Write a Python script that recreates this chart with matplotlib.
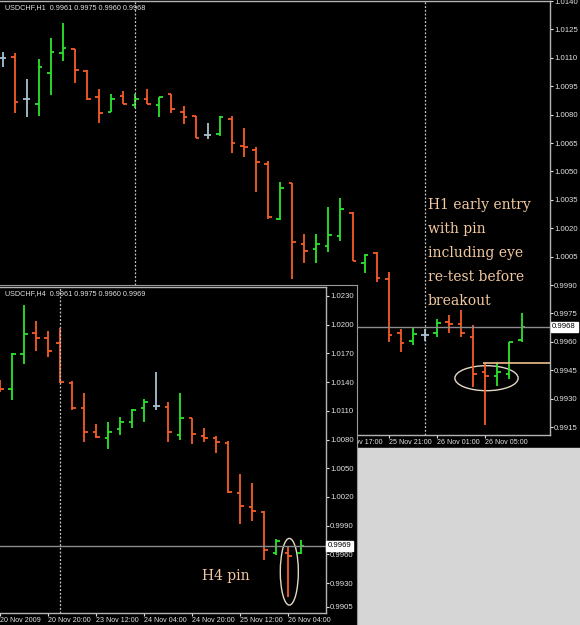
import matplotlib
matplotlib.use('Agg')
import matplotlib.pyplot as plt
from matplotlib.patches import Ellipse, Rectangle
from matplotlib.transforms import Bbox, TransformedBbox

W, H = 580, 625
plt.rcParams['font.family'] = ['Liberation Sans', 'DejaVu Sans']

# USDCHF H1 bars, 24 Nov 13:00 .. 26 Nov 08:00
h1_open = [1.01099, 1.01106, 1.00881, 1.00856, 1.01018, 1.01127, 1.01145, 1.01032, 1.00892, 1.00816,
           1.00900, 1.00851, 1.00884, 1.00851, 1.00907, 1.00816, 1.00794, 1.00692, 1.00696, 1.00775,
           1.00634, 1.00613, 1.00538, 1.00247, 1.00439, 1.00117, 1.00089, 1.00106, 1.00159, 1.00279,
           1.00018, 1.00069, 0.99931, 0.99646, 0.99605, 0.99637, 0.99646, 0.99703, 0.99695, 0.99628,
           0.99443, 0.99420, 0.99431, 0.99610]
h1_high = [1.01132, 1.01127, 1.00987, 1.01092, 1.01206, 1.01285, 1.01145, 1.01036, 1.00934, 1.00909,
           1.00926, 1.00907, 1.00934, 1.00895, 1.00907, 1.00846, 1.00794, 1.00754, 1.00794, 1.00794,
           1.00728, 1.00628, 1.00557, 1.00446, 1.00439, 1.00168, 1.00168, 1.00311, 1.00358, 1.00284,
           1.00064, 1.00076, 0.99971, 0.99667, 0.99680, 0.99667, 0.99721, 0.99742, 0.99768, 0.99689,
           0.99487, 0.99487, 0.99601, 0.99750]
h1_low = [1.01053, 1.00809, 1.00786, 1.00793, 1.00904, 1.01085, 1.00965, 1.00877, 1.00754, 1.00816,
          1.00856, 1.00833, 1.00856, 1.00790, 1.00807, 1.00749, 1.00678, 1.00670, 1.00689, 1.00596,
          1.00575, 1.00393, 1.00247, 1.00244, 0.99930, 1.00018, 1.00018, 1.00076, 1.00134, 1.00027,
          0.99966, 0.99918, 0.99601, 0.99548, 0.99584, 0.99605, 0.99624, 0.99649, 0.99624, 0.99360,
          0.99161, 0.99369, 0.99404, 0.99600]
h1_close = [1.01099, 1.00868, 1.00881, 1.01053, 1.01132, 1.01153, 1.01036, 1.00883, 1.00810, 1.00883,
            1.00856, 1.00881, 1.00856, 1.00895, 1.00830, 1.00789, 1.00678, 1.00692, 1.00789, 1.00652,
            1.00631, 1.00552, 1.00258, 1.00414, 1.00129, 1.00082, 1.00117, 1.00164, 1.00302, 1.00027,
            1.00056, 0.99939, 0.99637, 0.99596, 0.99640, 0.99637, 0.99701, 0.99693, 0.99646, 0.99431,
            0.99420, 0.99443, 0.99601, 0.99680]
h1_label_bars = [28, 32, 36, 40]
h1_labels = ['25 Nov 17:00', '25 Nov 21:00', '26 Nov 01:00', '26 Nov 05:00']
h1_prices = [1.0140, 1.0125, 1.0110, 1.0095, 1.0080, 1.0065, 1.0050, 1.0035, 1.0020, 1.0005,
             0.9990, 0.9975, 0.9960, 0.9945, 0.9930, 0.9915]
h1_separators = [11, 35]
h1_last = 0.9968
h1_level = 0.9949
h1_level_from = 39.85

# USDCHF H4 bars, 20 Nov 04:00 .. 26 Nov 08:00
h4_open = [1.01400, 1.01325, 1.01694, 1.01916, 1.01858, 1.01812, 1.01394, 1.01132, 1.00882, 1.00819,
           1.00907, 1.00986, 1.01126, 1.01150, 1.01143, 1.00847, 1.01022, 1.00837, 1.00813, 1.00767,
           1.00238, 1.00098, 1.00045, 0.99610, 0.99610, 0.99610]
h4_high = [1.01420, 1.01701, 1.02206, 1.02039, 1.01934, 1.01969, 1.01415, 1.01283, 1.00959, 1.00986,
           1.01032, 1.01119, 1.01220, 1.01509, 1.01195, 1.01283, 1.01022, 1.00923, 1.00837, 1.00787,
           1.00436, 1.00348, 1.00056, 0.99757, 0.99679, 0.99750]
h4_low = [1.01300, 1.01213, 1.01586, 1.01725, 1.01665, 1.01394, 1.01108, 1.00777, 1.00819, 1.00698,
          1.00847, 1.00917, 1.00980, 1.01108, 1.00777, 1.00795, 1.00750, 1.00771, 1.00656, 1.00244,
          0.99914, 0.99951, 0.99540, 0.99593, 0.99157, 0.99600]
h4_close = [1.01325, 1.01694, 1.01903, 1.01858, 1.01725, 1.01398, 1.01132, 1.00882, 1.00829, 1.00882,
            1.00986, 1.01108, 1.01195, 1.01150, 1.00882, 1.01022, 1.00854, 1.00819, 1.00777, 1.00251,
            1.00108, 1.00056, 0.99645, 0.99742, 0.99585, 0.99690]
h4_label_bars = [0, 4, 8, 12, 16, 20, 24]
h4_labels = ['20 Nov 2009', '20 Nov 20:00', '23 Nov 12:00', '24 Nov 04:00', '24 Nov 20:00',
             '25 Nov 12:00', '26 Nov 04:00']
h4_prices = [1.0230, 1.0200, 1.0170, 1.0140, 1.0110, 1.0080, 1.0050, 1.0020, 0.9990, 0.9960,
             0.9930, 0.9905]
h4_separators = [5]
h4_last = 0.9969

ORANGE = '#f65d28'
GREEN = '#2ce52c'
DOJI = '#a8c2d2'
FG = '#e2e2e2'
FRAME = '#b4b4b4'
NOTE = '#f2c9a0'
RING = '#e4d9c6'


def px_axes(fig, x0, y0, x1, y1):
    return fig.add_axes([x0 / W, 1 - y1 / H, (x1 - x0) / W, (y1 - y0) / H])


def draw_bars(ax, o, h, l, c, tick=0.3):
    for i in range(len(o)):
        if c[i] > o[i]:
            col = GREEN
        elif c[i] < o[i]:
            col = ORANGE
        else:
            col = DOJI
        kw = dict(color=col, lw=1.3, solid_capstyle='butt')
        ax.plot([i, i], [l[i], h[i]], **kw)
        ax.plot([i - tick, i], [o[i], o[i]], **kw)
        ax.plot([i, i + tick], [c[i], c[i]], **kw)


def style_chart(ax, prices, label_bars, labels, title, last):
    ax.set_facecolor('black')
    ax.spines['left'].set_visible(False)
    for s in ['top', 'right', 'bottom']:
        ax.spines[s].set_color(FRAME)
        ax.spines[s].set_linewidth(1)
    ax.yaxis.tick_right()
    ax.set_yticks(prices)
    ax.set_yticklabels([f'{p:.4f}' for p in prices])
    ax.set_xticks(label_bars)
    ax.set_xticklabels(labels, ha='left')
    ax.tick_params(colors=FG, labelsize=5.6, length=2, width=0.8, pad=1)
    ax.tick_params(axis='x', labelsize=5.1)
    ax.axhline(last, color='#8c8c8c', lw=1)
    ax.text(1.004, last, f'{last:.4f}', transform=ax.get_yaxis_transform(), fontsize=5.6,
            color='black', va='center', ha='left',
            bbox=dict(boxstyle='square,pad=0.2', fc='white', ec='white'))
    ax.annotate(title, xy=(0, 1), xycoords='axes fraction', xytext=(5, -3),
                textcoords='offset pixels', va='top', ha='left', color=FG, fontsize=5.2)


fig = plt.figure(figsize=(W / 100, H / 100), dpi=100, facecolor='black')
fig.patches.append(Rectangle((357 / W, 0), (W - 357) / W, (H - 448) / H,
                             transform=fig.transFigure, color='#d6d6d6', zorder=-1))

# ---- H1 window ----
ax1 = px_axes(fig, 0, 1, 550, 435)
draw_bars(ax1, h1_open, h1_high, h1_low, h1_close)
ax1.set_xlim(-2.5 / 12.07, 547.5 / 12.07)
ax1.set_ylim(0.99108, 1.0140)
for s in h1_separators:
    ax1.axvline(s, color='#c8c8c8', ls=(0, (1.5, 1.5)), lw=0.9)
style_chart(ax1, h1_prices, h1_label_bars, h1_labels,
            'USDCHF,H1  0.9961 0.9975 0.9960 0.9968', h1_last)
# the H4 window sits over the left part of the H1 time axis
visible = TransformedBbox(Bbox.from_extents(357 / W, 0, 1, 1), fig.transFigure)
for lab in ax1.get_xticklabels():
    lab.set_clip_box(visible)
    lab.set_clip_on(True)
ax1.hlines(h1_level, h1_level_from, ax1.get_xlim()[1], color='#f0c08e', lw=1.2)
ax1.add_patch(Ellipse((40.1, 0.99408), 5.24, 0.00132, fill=False, ec=RING, lw=1))
note = ['H1 early entry', 'with pin', 'including eye', 're-test before', 'breakout']
for k, line in enumerate(note):
    ax1.text(35.25, 1.00323 - k * 0.001267, line, color=NOTE, fontsize=10,
             family='DejaVu Serif', va='center', ha='left')

# ---- H4 window ----
win = px_axes(fig, 0, 285, 357, 625)
win.set_facecolor('black')
win.set_xticks([])
win.set_yticks([])
for s in ['left', 'bottom']:
    win.spines[s].set_visible(False)
for s in ['top', 'right']:
    win.spines[s].set_color('#9a9a9a')

ax4 = px_axes(fig, 0, 287, 326, 612.7)
draw_bars(ax4, h4_open, h4_high, h4_low, h4_close)
ax4.set_xlim(0, 326 / 12.02)
ax4.set_ylim(0.98990, 1.02394)
for s in h4_separators:
    ax4.axvline(s, color='#c8c8c8', ls=(0, (1.5, 1.5)), lw=0.9)
style_chart(ax4, h4_prices, h4_label_bars, h4_labels,
            'USDCHF,H4  0.9961 0.9975 0.9960 0.9969', h4_last)
ax4.add_patch(Ellipse((24.07, 0.99418), 1.5, 0.00697, fill=False, ec=RING, lw=1))
ax4.text(16.8, 0.99373, 'H4 pin', color=NOTE, fontsize=10, family='DejaVu Serif',
         va='center', ha='left')

fig.savefig('out.png', dpi=100, facecolor='black')
